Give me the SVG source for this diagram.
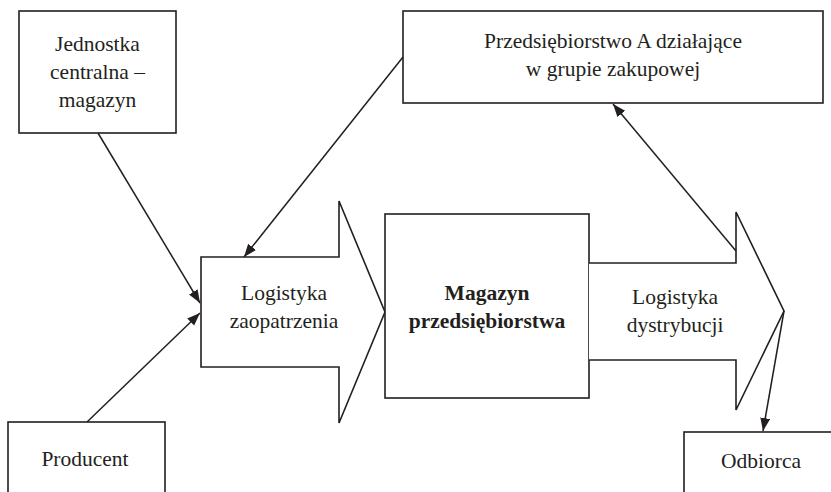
<svg xmlns="http://www.w3.org/2000/svg" width="831" height="492" viewBox="0 0 831 492">
<style>
.box{fill:#fff;stroke:#231f20;stroke-width:1.6}
.t{font-family:"Liberation Serif","Times New Roman",serif;font-size:21.5px;fill:#231f20;text-anchor:middle}
.b{font-weight:bold}
.c{fill:none;stroke:#231f20;stroke-width:1.5}
</style>
<defs>
<marker id="ah" markerUnits="userSpaceOnUse" markerWidth="14" markerHeight="12" refX="13" refY="5" orient="auto">
<path d="M0,0 L13,5 L0,10 Z" fill="#231f20"/>
</marker>
</defs>
<rect width="831" height="492" fill="#fff"/>
<g id="jednostka">
<rect class="box" x="19" y="11" width="157" height="122"/>
<text class="t" x="97.5" y="51">Jednostka</text>
<text class="t" x="97.5" y="79">centralna –</text>
<text class="t" x="97.5" y="107">magazyn</text>
</g>
<g id="przedsiebiorstwoA">
<rect class="box" x="403" y="11" width="420" height="92"/>
<text class="t" x="613" y="48">Przedsiębiorstwo A działające</text>
<text class="t" x="613" y="76">w grupie zakupowej</text>
</g>
<g id="logistyka-zaopatrzenia">
<path class="box" d="M201,257 L339,257 L339,201 L385,312 L339,423 L339,367 L201,367 Z"/>
<text class="t" x="284" y="300">Logistyka</text>
<text class="t" x="284" y="328">zaopatrzenia</text>
</g>
<g id="magazyn">
<rect class="box" x="385" y="214" width="204" height="184"/>
<text class="t b" x="487" y="300">Magazyn</text>
<text class="t b" x="487" y="328">przedsiębiorstwa</text>
</g>
<g id="logistyka-dystrybucji">
<path class="box" d="M589,263 L736,263 L736,212 L784,311 L736,410 L736,360 L589,360"/>
<text class="t" x="675" y="304">Logistyka</text>
<text class="t" x="675" y="332">dystrybucji</text>
</g>
<g id="producent">
<rect class="box" x="8" y="422" width="157" height="80"/>
<text class="t" x="85" y="466">Producent</text>
</g>
<g id="odbiorca">
<rect class="box" x="684" y="432" width="160" height="70"/>
<text class="t" x="761" y="468">Odbiorca</text>
</g>
<g id="connectors">
<line class="c" x1="98" y1="133" x2="200" y2="303" marker-end="url(#ah)"/>
<line class="c" x1="87" y1="422" x2="200" y2="313" marker-end="url(#ah)"/>
<line class="c" x1="403" y1="57" x2="244" y2="257" marker-end="url(#ah)"/>
<line class="c" x1="736" y1="251" x2="613" y2="104" marker-end="url(#ah)"/>
<line class="c" x1="784" y1="311" x2="763" y2="431" marker-end="url(#ah)"/>
</g>
</svg>
